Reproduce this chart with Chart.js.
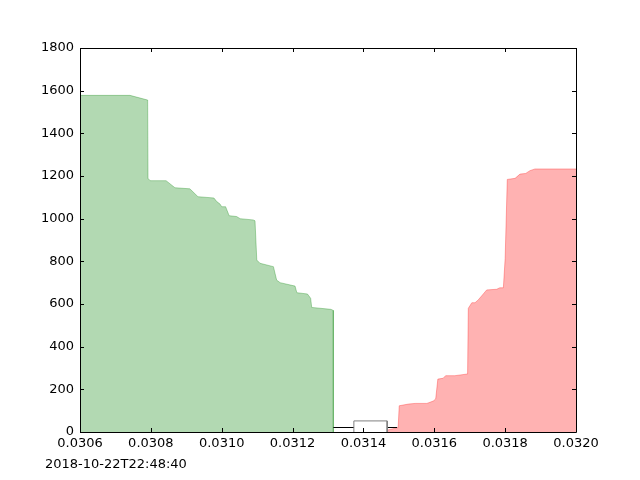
<!DOCTYPE html>
<html>
<head>
<meta charset="utf-8">
<script src="https://cdn.jsdelivr.net/npm/chart.js@4.4.0/dist/chart.umd.min.js"></script>
<style>
  html, body { margin: 0; padding: 0; background: #ffffff; }
  #wrap { width: 640px; height: 480px; }
</style>
</head>
<body>
<div id="wrap"><canvas id="c" width="640" height="480"></canvas></div>
<script>
// Bid side (green), price -> cumulative volume
const bidPrices  = [0.030600, 0.030741, 0.030791, 0.030792, 0.030798, 0.030843, 0.030868, 0.030910, 0.030933, 0.030978, 0.030986, 0.030995, 0.031000, 0.031011, 0.031021, 0.031042, 0.031052, 0.031089, 0.031094, 0.031099, 0.031108, 0.031146, 0.031155, 0.031165, 0.031207, 0.031212, 0.031242, 0.031251, 0.031254, 0.031308, 0.031315, 0.031315];
const bidVolumes = [1578, 1578, 1556, 1189, 1178, 1178, 1145, 1140, 1103, 1097, 1080, 1069, 1056, 1056, 1014, 1010, 1000, 994, 990, 806, 791, 775, 712, 700, 684, 653, 647, 627, 584, 575, 570, 0];

// Ask side (red)
const askPrices  = [0.031458, 0.031495, 0.031498, 0.031501, 0.031527, 0.031546, 0.031579, 0.031597, 0.031604, 0.031610, 0.031625, 0.031632, 0.031658, 0.031694, 0.031696, 0.031706, 0.031715, 0.031724, 0.031748, 0.031776, 0.031785, 0.031795, 0.031800, 0.031802, 0.031806, 0.031828, 0.031842, 0.031858, 0.031870, 0.031884, 0.032000];
const askVolumes = [5, 20, 20, 123, 131, 134, 134, 145, 155, 248, 252, 264, 264, 272, 580, 606, 606, 619, 666, 669, 676, 676, 814, 814, 1184, 1189, 1209, 1212, 1225, 1233, 1233];

// Trade range line and box
const linePrices  = [0.031315, 0.031495];
const lineLevel   = 21;
const boxPrices   = [0.031373, 0.031467];
const boxHeight   = 52;

// Tick values
const xTickValues = [0.0306, 0.0308, 0.0310, 0.0312, 0.0314, 0.0316, 0.0318, 0.0320];
const yTickValues = [0, 200, 400, 600, 800, 1000, 1200, 1400, 1600, 1800];
const timestampLabel = '2018-10-22T22:48:40';

const FONT = 'DejaVu Sans';

const bidData = bidPrices.map((p, i) => ({ x: p, y: bidVolumes[i] }));
const askData = askPrices.map((p, i) => ({ x: p, y: askVolumes[i] }));
const lineData = linePrices.map(p => ({ x: p, y: lineLevel }));
const boxData = [
  { x: boxPrices[0], y: 0 },
  { x: boxPrices[0], y: boxHeight },
  { x: boxPrices[1], y: boxHeight },
  { x: boxPrices[1], y: 0 }
];

const framePlugin = {
  id: 'frame',
  afterDraw(chart) {
    const { ctx, chartArea: a, scales } = chart;
    ctx.save();
    ctx.strokeStyle = '#000';
    ctx.lineWidth = 1;
    ctx.beginPath();
    ctx.rect(Math.round(a.left) + 0.5, Math.round(a.top) + 0.5, Math.round(a.right - a.left), Math.round(a.bottom - a.top));
    ctx.stroke();
    const L = 4;
    ctx.beginPath();
    xTickValues.forEach(v => {
      const px = Math.round(scales.x.getPixelForValue(v)) + 0.5;
      ctx.moveTo(px, a.bottom); ctx.lineTo(px, a.bottom - L);
      ctx.moveTo(px, a.top); ctx.lineTo(px, a.top + L);
    });
    yTickValues.forEach(v => {
      const py = Math.round(scales.y.getPixelForValue(v)) + 0.5;
      ctx.moveTo(a.left, py); ctx.lineTo(a.left + L, py);
      ctx.moveTo(a.right, py); ctx.lineTo(a.right - L, py);
    });
    ctx.stroke();
    ctx.fillStyle = '#000';
    ctx.font = '13px "' + FONT + '"';
    ctx.textAlign = 'left';
    ctx.textBaseline = 'alphabetic';
    ctx.fillText(timestampLabel, 45, 468);
    ctx.restore();
  }
};

new Chart(document.getElementById('c'), {
  type: 'line',
  data: {
    datasets: [
      {
        data: bidData,
        order: 3,
        borderColor: 'rgba(0,128,0,0.3)',
        backgroundColor: 'rgba(0,128,0,0.3)',
        borderWidth: 1,
        fill: 'origin',
        pointRadius: 0,
        tension: 0
      },
      {
        data: askData,
        order: 2,
        borderColor: 'rgba(255,0,0,0.3)',
        backgroundColor: 'rgba(255,0,0,0.3)',
        borderWidth: 1,
        fill: 'origin',
        pointRadius: 0,
        tension: 0
      },
      {
        data: lineData,
        order: 1,
        borderColor: '#000000',
        borderWidth: 1.2,
        fill: false,
        pointRadius: 0
      },
      {
        data: boxData,
        order: 0,
        borderColor: '#808080',
        backgroundColor: '#ffffff',
        borderWidth: 1,
        fill: 'origin',
        pointRadius: 0
      }
    ]
  },
  options: {
    responsive: false,
    animation: false,
    events: [],
    layout: { padding: { left: 0, right: 64, top: 48, bottom: 0 } },
    plugins: { legend: { display: false }, tooltip: { enabled: false } },
    scales: {
      x: {
        type: 'linear',
        min: 0.0306,
        max: 0.0320,
        grid: { display: false, drawTicks: false },
        border: { display: false },
        afterBuildTicks(scale) { scale.ticks = xTickValues.map(v => ({ value: v })); },
        afterFit(scale) { scale.height = 48; },
        ticks: {
          color: '#000',
          font: { family: FONT, size: 13 },
          padding: 4,
          maxRotation: 0,
          autoSkip: false,
          callback: v => Number(v).toFixed(4)
        }
      },
      y: {
        type: 'linear',
        min: 0,
        max: 1800,
        grid: { display: false, drawTicks: false },
        border: { display: false },
        afterBuildTicks(scale) { scale.ticks = yTickValues.map(v => ({ value: v })); },
        afterFit(scale) { scale.width = 80; },
        ticks: {
          color: '#000',
          font: { family: FONT, size: 13 },
          padding: 6,
          autoSkip: false,
          callback: v => String(v)
        }
      }
    }
  },
  plugins: [framePlugin]
});
</script>
</body>
</html>
